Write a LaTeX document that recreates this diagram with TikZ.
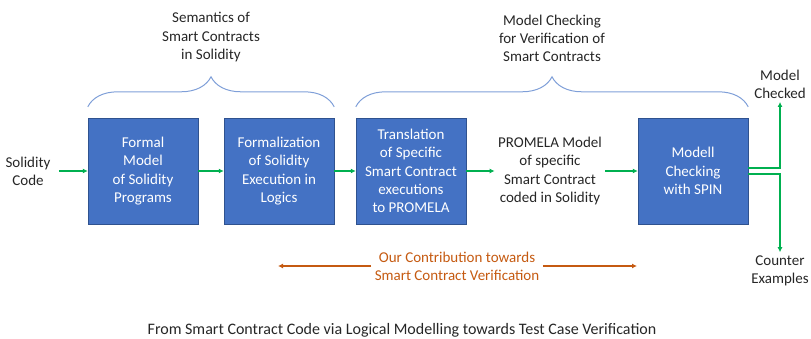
\documentclass[tikz,border=0pt]{standalone}
\usepackage{fontspec}
\setmainfont{Carlito}
\usepackage{tikz}
\usetikzlibrary{arrows.meta,calc,decorations.pathreplacing}
\definecolor{officeblue}{HTML}{4472C4}
\definecolor{officeedge}{HTML}{2F528F}
\definecolor{bracecol}{HTML}{7F9FD8}
\definecolor{flowgreen}{HTML}{00B050}
\definecolor{contriborange}{HTML}{C55A11}
\definecolor{textgray}{HTML}{262626}

\begin{document}
\begin{tikzpicture}[x=1pt,y=-1pt,
  every node/.style={font=\fontsize{15}{18.3}\selectfont,text=textgray,align=center},
  box/.style={draw=officeedge,fill=officeblue,minimum width=110pt,minimum height=106pt,
    text=white,inner sep=2pt},
  arr/.style={-{Latex[length=5pt,width=5pt]},flowgreen,line width=1.6pt},
  contrib/.style={-{Latex[length=5pt,width=5pt]},contriborange,line width=1.4pt},
  bracket/.style={decorate,decoration={brace,amplitude=30pt},bracecol,line width=1pt}
]
\useasboundingbox (0,0) rectangle (811,339);

\node (SC) at (28,171) {Solidity\\Code};
\node[box] (M1) at (143,171) {Formal\\Model\\of Solidity\\Programs};
\node[box] (M2) at (279,171) {Formalization\\of Solidity\\Execution in\\Logics};
\node[box] (M3) at (411,171) {Translation\\of Specific\\Smart Contract\\executions\\to PROMELA};
\node (PM) at (550,171) {PROMELA Model\\of specific\\Smart Contract\\coded in Solidity};
\node[box] (M4) at (693,171) {Modell\\Checking\\with SPIN};

\node (MC) at (780,84) {Model\\Checked};
\node (CE) at (780,271) {Counter\\Examples};

\draw[arr] ([xshift=5pt]SC.east) -- (M1);
\draw[arr] (M1) -- (M2);
\draw[arr] (M2) -- (M3);
\draw[arr] (M3) -- (PM);
\draw[arr] (PM) -- (M4);
\draw[arr] ([yshift=3pt]M4.east) -| (MC.south);
\draw[arr] ([yshift=-3pt]M4.east) -| (CE.north);

\draw[bracket] ([yshift=11pt]M1.north west) -- ([yshift=11pt]M2.north east)
  node[midway,above=41pt] (SEM) {Semantics of\\Smart Contracts\\in Solidity};
\draw[bracket] ([yshift=11pt]M3.north west) -- ([yshift=11pt]M4.north east)
  node[midway,above=41pt] (MCV) {Model Checking\\for Verification of\\Smart Contracts};

\node[text=contriborange] (OC) at (457,266) {Our Contribution towards\\Smart Contract Verification};
\coordinate (cl) at (278,266);
\coordinate (cr) at (637,266);
\draw[contrib] (OC) -- (cl);
\draw[contrib] (OC) -- (cr);

\node[font=\fontsize{16}{19}\selectfont] (CAP) at (402,330) {From Smart Contract Code via Logical Modelling towards Test Case Verification};
\end{tikzpicture}
\end{document}
